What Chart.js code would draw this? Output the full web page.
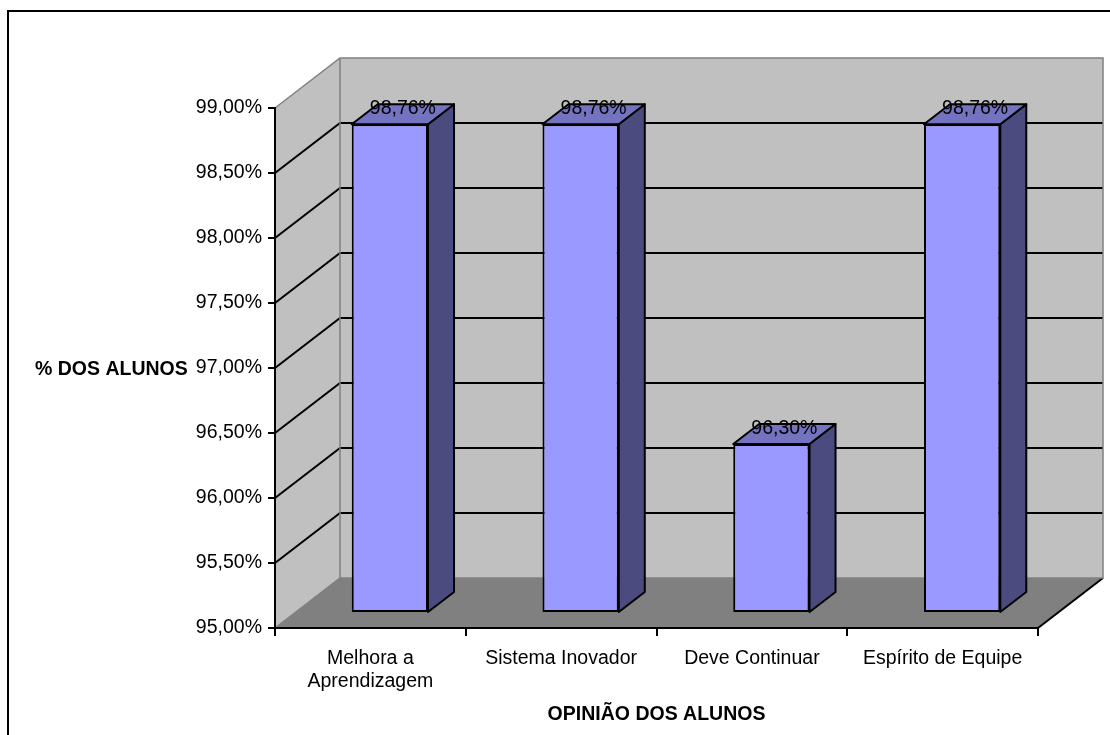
<!DOCTYPE html>
<html>
<head>
<meta charset="utf-8">
<script src="https://cdn.jsdelivr.net/npm/chart.js@4/dist/chart.umd.min.js"></script>
<style>
    body { margin: 0; background: #fff; }
</style>
</head>
<body>
<canvas id="chart" width="1110" height="735"></canvas>
<script>
// data
var categories = [['Melhora a', 'Aprendizagem'], 'Sistema Inovador', 'Deve Continuar', 'Espírito de Equipe'];
var percentValues = [98.76, 98.76, 96.30, 98.76];
var valueLabels = ['98,76%', '98,76%', '96,30%', '98,76%'];
var yTicks = [95, 95.5, 96, 96.5, 97, 97.5, 98, 98.5, 99];
var yTickLabels = ['95,00%', '95,50%', '96,00%', '96,50%', '97,00%', '97,50%', '98,00%', '98,50%', '99,00%'];

var FONT = '"Liberation Sans", Arial, sans-serif';
var FSIZE = 19.5;
var DX = 65, DY = 50;     // depth of the 3d box
var F0 = 0.3, F1 = 0.7;   // front / back of the bars inside the box

function poly(c, pts) {
    c.beginPath();
    c.moveTo(pts[0][0], pts[0][1]);
    for (var i = 1; i < pts.length; i++) c.lineTo(pts[i][0], pts[i][1]);
    c.closePath();
}

var box3d = {
    id: 'box3d',
    beforeDraw: function(chart) {
        var c = chart.ctx, a = chart.chartArea, ys = chart.scales.y;
        c.save();
        // outer frame
        c.strokeStyle = '#000';
        c.lineWidth = 2;
        c.strokeRect(8, 11, 1200, 800);

        // walls
        c.fillStyle = '#C0C0C0';
        poly(c, [[a.left, a.top], [a.left + DX, a.top - DY], [a.left + DX, a.bottom - DY], [a.left, a.bottom]]);
        c.fill();
        c.fillRect(a.left + DX, a.top - DY, a.right - a.left, a.bottom - a.top);
        // floor
        c.fillStyle = '#808080';
        poly(c, [[a.left, a.bottom], [a.right, a.bottom], [a.right + DX, a.bottom - DY], [a.left + DX, a.bottom - DY]]);
        c.fill();

        // gridlines
        c.strokeStyle = '#000';
        c.lineWidth = 2;
        yTicks.forEach(function(v) {
            if (v === yTicks[0] || v === yTicks[yTicks.length - 1]) return;
            var py = ys.getPixelForValue(v);
            c.beginPath();
            c.moveTo(a.left, py);
            c.lineTo(a.left + DX, py - DY);
            c.lineTo(a.right + DX, py - DY);
            c.stroke();
        });
        c.beginPath();
        c.moveTo(a.right, a.bottom);
        c.lineTo(a.right + DX, a.bottom - DY);
        c.stroke();

        // wall outlines
        c.strokeStyle = '#808080';
        c.lineWidth = 1.5;
        c.beginPath();
        c.moveTo(a.left, a.top);
        c.lineTo(a.left + DX, a.top - DY);
        c.lineTo(a.right + DX, a.top - DY);
        c.lineTo(a.right + DX, a.bottom - DY);
        c.lineTo(a.left + DX, a.bottom - DY);
        c.lineTo(a.left, a.bottom);
        c.moveTo(a.left + DX, a.top - DY);
        c.lineTo(a.left + DX, a.bottom - DY);
        c.stroke();
        c.restore();
    },
    beforeDatasetsDraw: function(chart) {
        chart.ctx.save();
        chart.ctx.translate(F0 * DX, -F0 * DY);
    },
    afterDatasetsDraw: function(chart) {
        var c = chart.ctx;
        c.restore();
        var ox = F0 * DX, oy = F0 * DY;
        var sx = (F1 - F0) * DX, sy = (F1 - F0) * DY;
        c.save();
        c.strokeStyle = '#000';
        c.lineWidth = 2;
        c.lineJoin = 'round';
        chart.getDatasetMeta(0).data.forEach(function(bar, i) {
            var l = bar.x - bar.width / 2 + ox, r = bar.x + bar.width / 2 + ox;
            var t = bar.y - oy, b = bar.base - oy;
            // side
            c.fillStyle = '#4B4B7F';
            poly(c, [[r, t], [r + sx, t - sy], [r + sx, b - sy], [r, b]]);
            c.fill(); c.stroke();
            // top
            c.fillStyle = '#7373BF';
            poly(c, [[l, t], [l + sx, t - sy], [r + sx, t - sy], [r, t]]);
            c.fill(); c.stroke();
            // value label
            c.fillStyle = '#000';
            c.font = FSIZE + 'px ' + FONT;
            c.textAlign = 'center';
            c.textBaseline = 'alphabetic';
            c.fillText(valueLabels[i], bar.x + DX / 2, bar.y - DY / 2 - 0.5);
        });
        c.restore();
    },
    afterDraw: function(chart) {
        var c = chart.ctx, a = chart.chartArea, ys = chart.scales.y;
        c.save();
        c.fillStyle = '#000';
        c.font = 'bold ' + FSIZE + 'px ' + FONT;
        c.textBaseline = 'alphabetic';
        c.textAlign = 'left';
        c.fillText('% DOS ALUNOS', 35, ys.getPixelForValue(97) + 7);
        c.textAlign = 'center';
        c.fillText('OPINIÃO DOS ALUNOS', (a.left + a.right) / 2, 720);
        c.restore();
    }
};

Chart.defaults.font.family = FONT;
Chart.defaults.font.size = FSIZE;
Chart.defaults.color = '#000';

var ctx = document.getElementById('chart').getContext('2d');
var chart = new Chart(ctx, {
    type: 'bar',
    data: {
        labels: categories,
        datasets: [{
            data: percentValues,
            base: yTicks[0],
            backgroundColor: '#9999FF',
            borderColor: '#000',
            borderWidth: 2,
            borderSkipped: false,
            barPercentage: 0.4,
            categoryPercentage: 1,
            clip: false
        }]
    },
    options: {
        responsive: false,
        animation: false,
        layout: { padding: { left: 0, top: 108, right: 72, bottom: 0 } },
        plugins: { legend: { display: false }, tooltip: { enabled: false } },
        scales: {
            x: {
                grid: { drawOnChartArea: false, offset: true, color: '#000', lineWidth: 2, tickLength: 8 },
                border: { color: '#000', width: 2 },
                ticks: { padding: 11, maxRotation: 0, color: '#000' },
                afterFit: function(s) { s.height = 107; }
            },
            y: {
                min: yTicks[0],
                max: yTicks[yTicks.length - 1],
                ticks: {
                    stepSize: 0.5,
                    padding: 6,
                    color: '#000',
                    callback: function(v, i) { return yTickLabels[i]; }
                },
                grid: { drawOnChartArea: false, color: '#000', lineWidth: 2, tickLength: 7 },
                border: { color: '#000', width: 2 },
                afterFit: function(s) { s.width = 275; }
            }
        }
    },
    plugins: [box3d]
});
</script>
</body>
</html>
